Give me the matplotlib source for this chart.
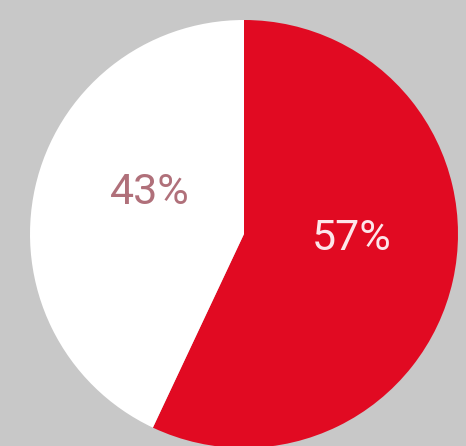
import matplotlib
matplotlib.use("Agg")
import matplotlib.pyplot as plt

categories = ["A", "B"]
values = [57, 43]
colors = ["#e10a22", "#ffffff"]
label_colors = ["#fde6ea", "#b0707a"]

W, H = 466, 446
fig = plt.figure(figsize=(W / 100, H / 100), dpi=100)
fig.patch.set_facecolor("#c8c8c8")
ax = fig.add_axes([0, 0, 1, 1])
ax.set_facecolor("#c8c8c8")
ax.set_xlim(0, W)
ax.set_ylim(0, H)
ax.set_aspect("equal")
ax.axis("off")

cx, cy, r = 244, H - 234, 214
ax.pie(values, colors=colors, startangle=90, counterclock=False,
       center=(cx, cy), radius=r, frame=True,
       wedgeprops=dict(linewidth=0))
ax.set_xlim(0, W)
ax.set_ylim(0, H)
ax.axis("off")

label_pos = [(352, H - 239), (150, H - 193)]
for v, (x, y), c in zip(values, label_pos, label_colors):
    ax.text(x, y, f"{v}%", ha="center", va="center", color=c,
            fontsize=31, family="Roboto")

fig.savefig("out.png", dpi=100, facecolor=fig.get_facecolor())
